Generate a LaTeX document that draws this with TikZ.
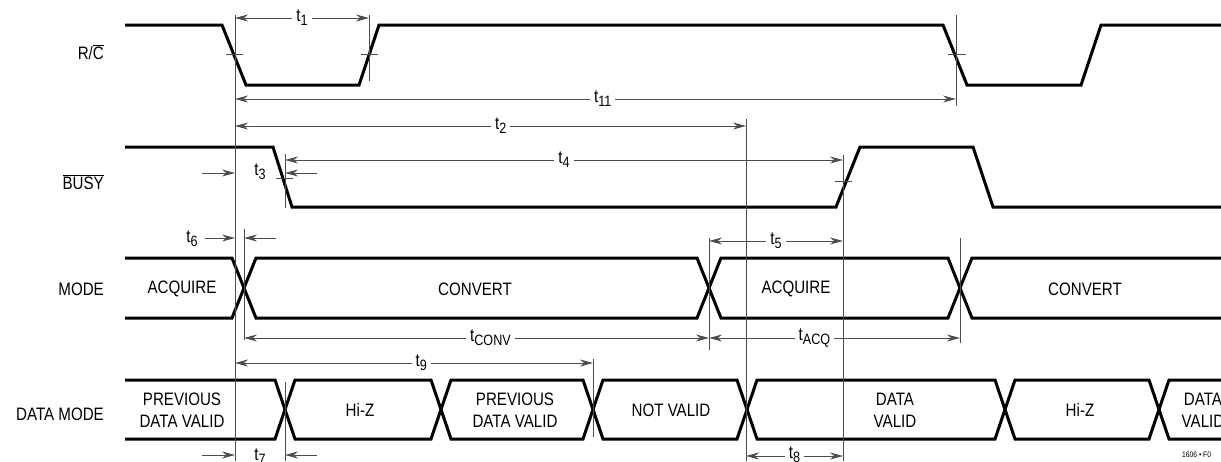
\documentclass[tikz,border=0pt]{standalone}
\usepackage{fontspec}
\setmainfont{Liberation Sans}[FakeStretch=0.84]
\usetikzlibrary{arrows.meta,positioning}

\newcommand{\tsub}[1]{t\raisebox{-4pt}{\fontsize{15}{15}\selectfont #1}}

\begin{document}
\begin{tikzpicture}[x=1pt, y=-1pt,
    wave/.style = {line width=3pt},
    guide/.style = {line width=0.9pt, draw=black!70},
    dim/.style = {guide, {Stealth[length=13pt,width=7pt]}-{Stealth[length=13pt,width=7pt]}},
    oneway/.style = {guide, -{Stealth[length=13pt,width=7pt]}},
    tlabel/.style = {fill=white, inner sep=4pt, font=\fontsize{18}{18}\selectfont},
    signame/.style = {anchor=east, inner sep=0pt, font=\fontsize{18}{18}\selectfont},
    state/.style = {align=center, font=\fontsize{18}{22}\selectfont}]
        \useasboundingbox (0,0) rectangle (1221,461);

        % signal names
        \node[signame] (rc) at (104,52) {R/$\overline{\mbox{C}}$};
        \node[signame] (busy) at (104,182) {$\overline{\mbox{BUSY}}$};
        \node[signame] (mode) at (104,289) {MODE};
        \node[signame] (dmode) at (104,414) {DATA MODE};

        % waveforms
        \draw[wave] (125,25) -- (222,25) -- (246,85) -- (359,85) -- (379,25) -- (943,25) -- (967,85) -- (1081,85) -- (1101,25) -- (1221,25);
        \draw[wave] (125,147) -- (273,147) -- (292,207) -- (836,207) -- (860,147) -- (973,147) -- (993,207) -- (1221,207);
        \draw[wave] (125,258) -- (232,258) -- (256,318) -- (697,318) -- (721,258) -- (948,258) -- (972,318) -- (1221,318);
        \draw[wave] (125,318) -- (232,318) -- (256,258) -- (697,258) -- (721,318) -- (948,318) -- (972,258) -- (1221,258);
        \draw[wave] (125,380) -- (275,380) -- (295,439) -- (431,439) -- (451,380) -- (583,380) -- (603,439) -- (737,439) -- (757,380) -- (995,380) -- (1015,439) -- (1149,439) -- (1169,380) -- (1221,380);
        \draw[wave] (125,439) -- (275,439) -- (295,380) -- (431,380) -- (451,439) -- (583,439) -- (603,380) -- (737,380) -- (757,439) -- (995,439) -- (1015,380) -- (1149,380) -- (1169,439) -- (1221,439);

        % states
        \node[state] (acq1) at (182,289) {ACQUIRE};
        \node[state] (conv1) at (475,289) {CONVERT};
        \node[state] (acq2) at (796,289) {ACQUIRE};
        \node[state] (conv2) at (1085,289) {CONVERT};
        \node[state] (prev1) at (182,410) {PREVIOUS\\DATA VALID};
        \node[state] (hiz1) at (360,410) {Hi-Z};
        \node[state] (prev2) at (515,410) {PREVIOUS\\DATA VALID};
        \node[state] (notv) at (671,410) {NOT VALID};
        \node[state] (valid1) at (895,410) {DATA\\VALID};
        \node[state] (hiz2) at (1080,410) {Hi-Z};
        \node[state] (valid2) at (1203,410) {DATA\\VALID};

        % guide lines
        \coordinate (g0) at (235,15);
        \coordinate (g1) at (369,15);
        \coordinate (g11) at (956,15);
        \coordinate (g2) at (746,119);
        \coordinate (g3) at (285,154);
        \coordinate (g4) at (843,155);
        \coordinate (g6) at (244,229);
        \coordinate (g5) at (709,238);
        \coordinate (gacq) at (960,238);
        \coordinate (g9) at (593,359);
        \coordinate (g7) at (285,382);
        \draw[guide] (g0) -- ++(0,446);
        \draw[guide] (g1) -- ++(0,66);
        \draw[guide] (g11) -- ++(0,91);
        \draw[guide] (g2) -- ++(0,342);
        \draw[guide] (g3) -- ++(0,54);
        \draw[guide] (g4) -- ++(0,306);
        \draw[guide] (g6) -- ++(0,111);
        \draw[guide] (g5) -- ++(0,112);
        \draw[guide] (gacq) -- ++(0,105);
        \draw[guide] (g9) -- ++(0,78);
        \draw[guide] (g7) -- ++(0,79);

        % threshold ticks
        \draw[guide] (226,54) -- (243,54);
        \draw[guide] (361,54) -- (378,54);
        \draw[guide] (948,54) -- (966,54);
        \draw[guide] (276,178) -- (293,178);
        \draw[guide] (835,181) -- (852,181);

        % timing rows
        \coordinate (r1) at (0,18);
        \coordinate (r11) at (0,99);
        \coordinate (r2) at (0,126);
        \coordinate (r4) at (0,160);
        \coordinate (r5) at (0,241);
        \coordinate (rc) at (0,338);
        \coordinate (r9) at (0,363);
        \coordinate (r8) at (0,456);

        \draw[dim] (g0 |- r1) -- node[tlabel] {\tsub{1}} (g1 |- r1);
        \draw[dim] (g0 |- r11) -- node[tlabel, pos=0.51] {\tsub{11}} (g11 |- r11);
        \draw[dim] (g0 |- r2) -- node[tlabel, pos=0.52] {\tsub{2}} (g2 |- r2);
        \draw[dim] (g3 |- r4) -- node[tlabel] {\tsub{4}} (g4 |- r4);
        \draw[dim] (g5 |- r5) -- node[tlabel] {\tsub{5}} (g4 |- r5);
        \draw[dim] (g6 |- rc) -- node[tlabel, pos=0.53] {\tsub{CONV}} (g5 |- rc);
        \draw[dim] (g5 |- rc) -- node[tlabel, pos=0.42] {\tsub{ACQ}} (gacq |- rc);
        \draw[dim] (g0 |- r9) -- node[tlabel, pos=0.52] {\tsub{9}} (g9 |- r9);
        \draw[dim] (g2 |- r8) -- node[tlabel, yshift=1pt] {\tsub{8}} (g4 |- r8);

        % one sided arrows
        \node[tlabel] (t3) at (260,172) {\tsub{3}};
        \coordinate (t3l) at (202,173);
        \coordinate (t3r) at (317,173);
        \draw[oneway] (t3l) -- (t3l -| g0);
        \draw[oneway] (t3r) -- (t3r -| g3);

        \node[tlabel, fill=none] (t6) at (192,239) {\tsub{6}};
        \coordinate (t6l) at (205,238);
        \coordinate (t6r) at (276,238);
        \draw[oneway] (t6l) -- (t6l -| g0);
        \draw[oneway] (t6r) -- (t6r -| g6);

        \node[tlabel] (t7) at (260,457) {\tsub{7}};
        \coordinate (t7l) at (202,455);
        \coordinate (t7r) at (317,455);
        \draw[oneway] (t7l) -- (t7l -| g0);
        \draw[oneway] (t7r) -- (t7r -| g7);

        \node[anchor=west, inner sep=0pt, font=\fontsize{8}{8}\selectfont] (fig) at (1182,455) {1606 • F0};
\end{tikzpicture}
\end{document}
